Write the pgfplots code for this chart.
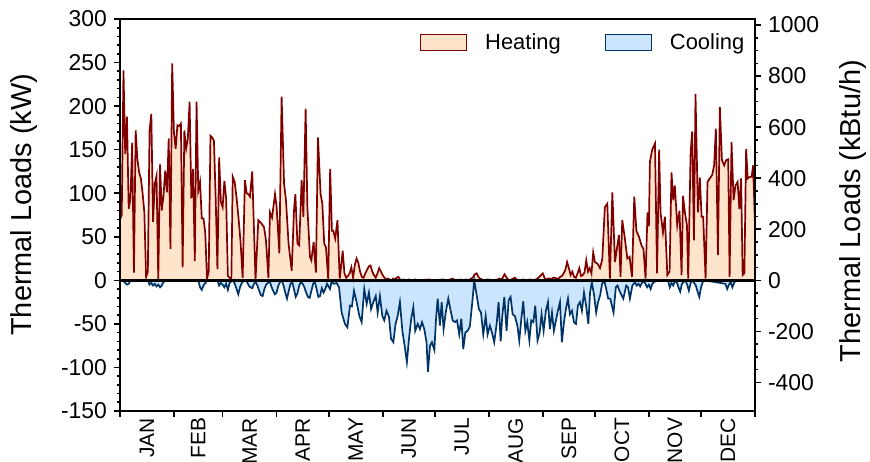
\documentclass[border=0pt]{standalone}
\usepackage{fontspec}
\setmainfont{Liberation Sans}
\usepackage{pgfplots}
\pgfplotsset{compat=1.18}
\usepackage{pgfplotstable}
\definecolor{heatline}{RGB}{128,0,0}
\definecolor{heatfill}{RGB}{255,228,204}
\definecolor{coolline}{RGB}{0,51,102}
\definecolor{coolfill}{RGB}{204,229,255}

\pgfplotstableread{
x y
0 70
1 75
2 241
3 145
4 188
5 82
6 94
7 158
8 9
9 172
10 139
11 124
12 117
13 100
14 78
15 4
16 10
17 172
18 191
19 67
20 111
21 120
22 1
23 133
24 80
25 97
26 126
27 101
28 163
29 36
30 249
31 170
32 151
33 178
34 177
35 180
36 15
37 172
38 151
39 163
40 205
41 94
42 128
43 22
44 205
45 103
46 113
47 71
48 71
49 55
50 2
51 10
52 166
53 164
54 160
55 94
56 13
57 141
58 90
59 84
60 114
61 94
62 5
63 3
64 2
64.8 119
65.9 113
67 95
68.2 70
69.3 44
70.5 3
71.8 115
72.8 100
73.7 99
74.7 96
76 125
77.9 0
79.5 69
80.5 67
81.4 65
82.8 61
83.9 46
85.3 3
86.2 78
87.4 72
89.1 99
90 85
91.6 31
92.9 211
94.3 111
95.4 92
96.9 42
98.7 11
100 80
100.8 99
102 42
103 40
104.4 115
105.4 73
106.7 197
107.7 84
109.2 27
110 23
111.3 44
112.6 9
113.8 164
115.3 99
116.3 88
117.4 42
118.4 38
119.7 1
120.8 128
121.8 57
122.6 57
123.7 48
125 69
126.3 2
127.3 20
128 34
129 8
130 3
131 5
132 8
133 15
134 3
135 18
136 25
137 20
138 10
139 4
140 3
141 8
142 12
143 16
144 17
145 10
146 6
147 3
148 8
149 14
150 10
151 6
152 3
153 1
154 2
155 1
156 0
157 2
158 1
159 3
160 4
161 1
162 0
163 1
164 0
166 1
167 0
170 1
171 0
178 1
179 0
186 1
187 0
190 1
191 2
192 1
193 0
196 1
197 0
199 1
200 0
201 1
202 2
203 4
204 7
205 8
206 4
207 2
208 1
209 0
211 1
212 1
213 0
217 1
218 2
219 1
220 3
221 7
222 4
223 1
224 0
225 1
226 2
227 3
228 1
229 0
232 1
233 0
236 1
237 0
239 1
240 2
241 4
242 6
243 8
244 3
245 1
246 2
247 2
248 1
249 3
250 3
251 2
252 2
253 4
254 5
255 8
256 12
257 21
258 14
259 6
260 10
261 4
262 3
263 8
264 14
265 5
266 6
267 9
268 23
269 10
270 14
271 8
272 32
273 21
274.5 19
275.9 14
277.2 24
278.7 84
280.1 88
281.6 2
283 101
284.5 21
285.6 36
286.8 52
287.7 4
288.7 69
290.2 48
291.6 25
292.9 27
294.3 4
295.6 96
296.8 57
298.3 50
299.8 40
300.9 36
302.1 2
303.2 78
304 62
304.6 136
305.9 150
307.5 157
308.7 8
309.9 150
310.7 78
312.1 55
313.2 73
314.6 6
315.9 10
317 124
318 92
318.9 109
320.3 63
321.6 80
322.8 6
323.6 97
324.7 78
325.9 63
326.6 2
328 147
328.9 171
329.9 46
330.8 214
332.2 78
333.3 118
334.3 73
335.2 73
336.6 2
337.7 113
339 117
340.4 121
341.5 132
342.5 174
343.7 29
344.8 199
346 138
347.3 132
348.4 138
349.6 139
350.4 4
351.5 159
352.7 92
353.8 109
355 113
356 82
357 117
357.9 6
358.9 8
359.9 151
360.8 117
362.2 119
363.1 119
363.9 132
365 63
}\heat

\pgfplotstableread{
x y
0 0
2 -1
3 -3
4 -5
5 -4
6 0
16 0
17 -5
18 -3
19 -6
20 -4
21 -7
22 -5
23 -8
24 -6
25 -2
26 0
45 0
46 -8
47 -11
48 -6
49 -3
50 0
56 0
57 -6
58 -3
59 -5
60 -8
61 -4
62 -11
63 -3
64 -1
65 0
66 -4
67 -10
68 -16
69 -8
70 -3
71 -1
72 0
73 -2
74 -6
75 -8
76 -9
77 -4
78 -2
79 -6
80 -12
81 -17
82 -18
83 -10
84 -5
85 -3
86 -1
87 -7
88 -12
89 -16
90 -14
91 -6
92 -2
93 0
94 -6
95 -14
96 -21
97 -12
98 -4
99 -2
100 -10
101 -19
102 -15
103 -6
104 -2
105 -4
106 -8
107 -14
108 -19
109 -20
110 -12
111 -4
112 -2
113 -10
114 -19
115 -18
116 -9
117 -14
118 -10
119 -4
120.7 -10
121.6 -2
123 -4
124.5 -3
125.9 -8
127.4 -37
129.3 -50
130.7 -54
132.2 -29
133.3 -30
134.5 -12
136 -25
137.6 -41
138.9 -48
140.4 -10
141.8 -27
143.1 -14
144.3 -33
145.6 -25
147 -18
148.1 -37
149.4 -18
150.8 -41
151.9 -46
153.2 -35
154.6 -42
155.8 -67
157.1 -71
158.4 -50
159.6 -41
160.9 -25
162.3 -58
163.6 -75
164.9 -94
166.1 -67
167.4 -44
168.6 -31
169.7 -58
171.1 -50
172.4 -56
173.6 -48
174.9 -56
176.2 -71
177 -105
178.2 -75
179.3 -71
180.7 -80
181.6 -46
182.6 -21
183.9 -52
184.9 -25
186 -56
187.4 -35
188.7 -21
189.9 -33
191.2 -46
192.5 -48
193.7 -46
195 -62
196.2 -44
197.3 -79
198.5 -60
199.8 -58
201.1 -53
202.7 -21
203.6 0
205 -17
206.3 -33
207.5 -37
208.8 -62
210.2 -41
211.3 -62
212.6 -52
213.8 -60
215.1 -71
216.5 -50
217.6 -25
218.8 -70
219.7 -42
220.9 -19
222.2 -58
223.4 -23
224.5 -19
225.7 -39
227 -41
228.4 -52
229.5 -69
230.7 -44
231.8 -24
233 -58
234.1 -48
235.3 -69
236.4 -46
237.6 -48
238.7 -29
240 -69
241.2 -60
242.3 -39
243.5 -58
244.8 -35
246 -25
247.1 -56
248.3 -37
249.4 -58
250.6 -46
251.7 -35
252.9 -25
254 -71
255.2 -48
256.3 -33
257.5 -21
258.6 -39
259.8 -35
260.9 -48
262.1 -50
263.2 -29
264.4 -25
265.5 -35
266.7 -14
267.9 -29
269.2 -50
270.2 -14
271.2 -2
272.5 -17
273.7 -37
274.8 -25
276 -17
277.1 -4
278.3 0
279.5 -10
280.6 -21
281.8 -21
283.7 -37
285 -8
286 -6
287.3 -13
289.3 -21
291 -6
292 -8
293.1 -21
294.5 -6
296 -2
297 -6
298 -4
299 -7
300 -3
301 -1
302 -4
303 -8
304 -5
305 -10
306 -4
307 -2
308 -1
309 0
315 0
316 -8
317 -3
318 -6
319 -1
320 -2
321 -8
322 -13
323 -4
324 -2
325 0
326 -5
327 -12
328 -3
329 0
331 -6
332 -13
333 -19
334 -8
335 -2
336 0
348 -4
349 -10
350 -5
351 -2
352 -8
353 -3
354 0
365 0
}\cool

\begin{document}
\begin{tikzpicture}
\useasboundingbox (0,0) rectangle (435bp,231bp);
\begin{axis}[
  at={(60bp,25.5bp)}, anchor=south west,
  scale only axis, width=317.5bp, height=196bp,
  xmin=0, xmax=365, ymin=-150, ymax=300,
  axis on top,
  axis line style={line width=1bp},
  tick align=outside,
  tick style={black, line width=0.8bp},
  major tick length=3bp, minor tick length=1.5bp,
  xtick={0,31,59,90,120,151,181,212,243,273,304,334,365},
  xticklabels={},
  extra x ticks={15.5,45,74.5,105,135.5,166,196.5,227.5,258,288.5,319,349.5},
  extra x tick labels={JAN,FEB,MAR,APR,MAY,JUN,JUL,AUG,SEP,OCT,NOV,DEC},
  extra x tick style={major tick length=0pt, tick label style={rotate=90, anchor=east, font=\fontsize{10.5}{12}\selectfont}},
  xtick pos=bottom, ytick pos=left,
  ytick={-150,-100,...,300},
  minor y tick num=4,
  y tick label style={font=\fontsize{11.5}{13.8}\selectfont},
  /pgf/number format/assume math mode=true,
  /pgf/number format/1000 sep={},
  ylabel={Thermal Loads (kW)},
  ylabel style={at={(axis description cs:-0.151,0.526)}, anchor=center, font=\fontsize{14.5}{17}\selectfont},
  legend columns=2,
  legend cell align=left,
  legend style={at={(axis description cs:0.99,0.975)}, anchor=north east, draw=none, fill=none,
    font=\fontsize{11}{13}\selectfont, inner sep=0pt,
    /tikz/every odd column/.append style={column sep=7bp},
    /tikz/every even column/.append style={column sep=20bp}},
]
\addplot[draw=none, fill=heatfill, forget plot] table {\heat} \closedcycle;
\addplot[draw=none, fill=coolfill, forget plot] table {\cool} \closedcycle;
\addplot[heatline, line width=0.85bp, forget plot] table {\heat};
\addplot[coolline, line width=0.85bp, forget plot] table {\cool};
\addplot[black, line width=1.25bp, forget plot] coordinates {(0,0) (365,0)};
\addlegendimage{legend image code/.code={\draw[fill=heatfill, draw=heatline, line width=0.6bp] (0bp,-4bp) rectangle (23bp,4bp);}}
\addlegendentry{Heating}
\addlegendimage{legend image code/.code={\draw[fill=coolfill, draw=coolline, line width=0.6bp] (0bp,-4bp) rectangle (23bp,4bp);}}
\addlegendentry{Cooling}
\end{axis}
\begin{axis}[
  at={(60bp,25.5bp)}, anchor=south west,
  scale only axis, width=317.5bp, height=196bp,
  xmin=0, xmax=365, ymin=-511.82, ymax=1023.64,
  axis x line=none, axis y line*=right,
  axis line style={line width=1bp},
  tick align=outside,
  tick style={black, line width=0.8bp},
  major tick length=3bp, minor tick length=1.5bp,
  ytick={-400,-200,...,1000},
  minor y tick num=3,
  y tick label style={font=\fontsize{11.5}{13.8}\selectfont},
  /pgf/number format/assume math mode=true,
  /pgf/number format/1000 sep={},
  ylabel={Thermal Loads (kBtu/h)},
  ylabel style={at={(axis description cs:1.154,0.51)}, anchor=center, rotate=0, font=\fontsize{14.5}{17}\selectfont},
]
\end{axis}
\end{tikzpicture}
\end{document}
